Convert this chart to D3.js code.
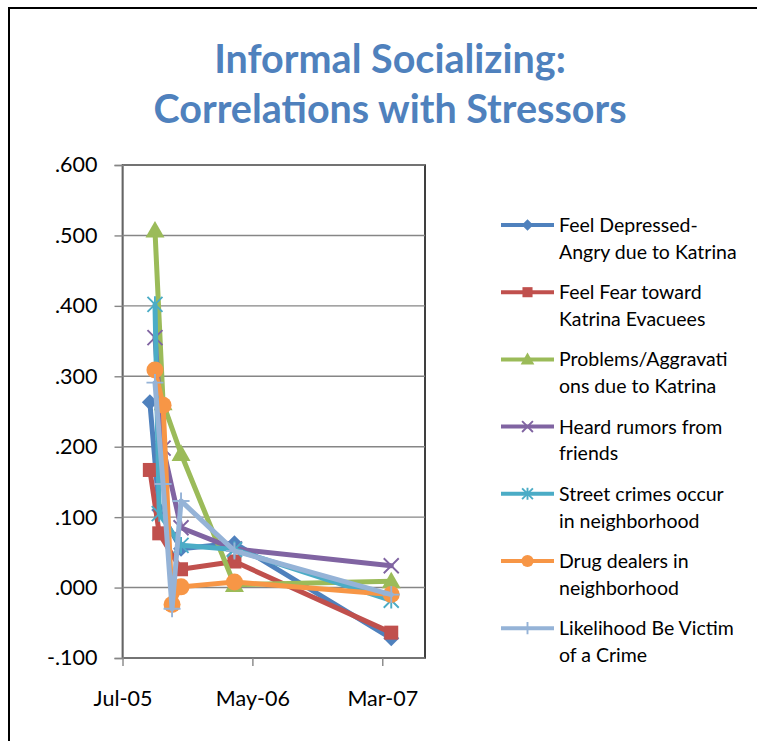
<!DOCTYPE html>
<html>
<head>
<meta charset="utf-8">
<script src="https://cdn.jsdelivr.net/npm/d3@7"></script>
<style>
  html, body { margin: 0; padding: 0; background: #fff; }
  svg { display: block; }
  text { font-family: Lato, "Open Sans", sans-serif; }
</style>
</head>
<body>
<svg id="chart" width="757" height="741"></svg>
<script>
// ---- data ----
const titleLines = ["Informal Socializing:", "Correlations with Stressors"];
const dates = ["2005-09-03", "2005-09-15", "2005-09-25", "2005-10-04", "2005-10-25", "2005-11-15", "2006-03-20", "2007-03-22"];
const seriesNames = [
  ["Feel Depressed-", "Angry due to Katrina"],
  ["Feel Fear toward", "Katrina Evacuees"],
  ["Problems/Aggravati", "ons due to Katrina"],
  ["Heard rumors from", "friends"],
  ["Street crimes occur", "in neighborhood"],
  ["Drug dealers in", "neighborhood"],
  ["Likelihood Be Victim", "of a Crime"]
];
const depressed  = [0.263, null, 0.110, null, null, 0.055, 0.063, -0.072];
const fear       = [0.167, null, 0.077, null, null, 0.026, 0.037, -0.064];
const problems   = [null, 0.507, null, 0.262, null, 0.190, 0.004, 0.009];
const rumors     = [null, 0.355, null, 0.198, null, 0.085, 0.055, 0.031];
const street     = [null, 0.402, 0.105, null, null, 0.060, 0.054, -0.018];
const drug       = [null, 0.309, null, 0.259, -0.024, 0.001, 0.008, -0.010];
const likelihood = [null, 0.291, null, 0.147, -0.030, 0.123, 0.052, -0.010];
const yTicks = [-0.1, 0, 0.1, 0.2, 0.3, 0.4, 0.5, 0.6];
const xTicks = ["2005-07-01", "2006-05-01", "2007-03-01"];
const xDomain = ["2005-07-01", "2007-06-09"];

const allSeries = [depressed, fear, problems, rumors, street, drug, likelihood];
const colors = ["#4F81BD", "#C0504D", "#9BBB59", "#8064A2", "#4BACC6", "#F79646", "#95B3D7"];
const markers = ["diamond", "square", "triangle", "x", "star", "circle", "plus"];

// ---- layout ----
const svg = d3.select("#chart");
const parse = d3.timeParse("%Y-%m-%d");
const pLeft = 122.5, pRight = 425, pTop = 165, pBottom = 658;

const x = d3.scaleTime().domain(xDomain.map(parse)).range([pLeft, pRight]);
const y = d3.scaleLinear().domain([-0.1, 0.6]).range([pBottom, pTop]);

// outer frame
svg.append("rect").attr("x", 9).attr("y", 8).attr("width", 900).attr("height", 900)
  .attr("fill", "#fff").attr("stroke", "#000").attr("stroke-width", 2);

// title
svg.append("g").selectAll("text").data(titleLines).join("text")
  .attr("x", 390).attr("y", (d, i) => 73 + i * 50)
  .attr("text-anchor", "middle")
  .attr("font-size", 39.5).attr("font-weight", "bold")
  .attr("fill", "#4F81BD")
  .text(d => d);

// plot-area border
svg.append("rect").attr("x", pLeft).attr("y", pTop).attr("width", pRight - pLeft).attr("height", pBottom - pTop)
  .attr("fill", "none").attr("stroke", "#000").attr("stroke-width", 1.5);

// gridlines
svg.append("g").selectAll("line").data(yTicks.filter(v => v > -0.1)).join("line")
  .attr("x1", pLeft).attr("x2", pRight)
  .attr("y1", d => y(d)).attr("y2", d => y(d))
  .attr("stroke", "#868686").attr("stroke-width", 1.4);

// y axis
const yAxis = d3.axisLeft(y).tickValues(yTicks).tickSize(8).tickPadding(17)
  .tickFormat(d => (d < 0 ? "-" : "") + d3.format(".3f")(Math.abs(d)).replace(/^0/, ""));
const gy = svg.append("g").attr("transform", `translate(${pLeft},0)`).call(yAxis);
gy.select(".domain").attr("stroke", "#868686").attr("stroke-width", 1.5);
gy.selectAll(".tick line").attr("stroke", "#868686").attr("stroke-width", 1.4);
gy.selectAll(".tick text").attr("font-size", 21.5).attr("fill", "#000")
  .attr("font-family", "Lato, 'Open Sans', sans-serif");

// x axis
const fmt = d3.timeFormat("%b-%y");
const xAxis = d3.axisBottom(x).tickValues(xTicks.map(parse)).tickSize(8).tickPadding(25).tickFormat(fmt);
const gx = svg.append("g").attr("transform", `translate(0,${pBottom})`).call(xAxis);
gx.select(".domain").attr("stroke", "#868686").attr("stroke-width", 1.5).attr("d", `M${pLeft},0H${pRight}`);
gx.selectAll(".tick line").attr("stroke", "#868686").attr("stroke-width", 1.4);
gx.selectAll(".tick text").attr("font-size", 21.5).attr("fill", "#000")
  .attr("font-family", "Lato, 'Open Sans', sans-serif");

// marker drawing
function drawMarker(g, type, cx, cy, color, scale) {
  const s = scale || 1;
  if (type === "diamond") {
    const r = 8 * s;
    g.append("path").attr("d", `M${cx},${cy - r}L${cx + r},${cy}L${cx},${cy + r}L${cx - r},${cy}Z`).attr("fill", color);
  } else if (type === "square") {
    const r = 7 * s;
    g.append("rect").attr("x", cx - r).attr("y", cy - r).attr("width", 2 * r).attr("height", 2 * r).attr("fill", color);
  } else if (type === "triangle") {
    const r = 9.5 * s;
    g.append("path").attr("d", `M${cx},${cy - r}L${cx + r},${cy + r * 0.75}L${cx - r},${cy + r * 0.75}Z`).attr("fill", color);
  } else if (type === "circle") {
    g.append("circle").attr("cx", cx).attr("cy", cy).attr("r", 8.5 * s).attr("fill", color);
  } else if (type === "x") {
    const r = 7.5 * s;
    g.append("path").attr("d", `M${cx - r},${cy - r}L${cx + r},${cy + r}M${cx - r},${cy + r}L${cx + r},${cy - r}`)
      .attr("stroke", color).attr("stroke-width", 1.9).attr("fill", "none");
  } else if (type === "star") {
    const r = 7.5 * s;
    g.append("path").attr("d", `M${cx - r},${cy - r}L${cx + r},${cy + r}M${cx - r},${cy + r}L${cx + r},${cy - r}M${cx},${cy - r * 1.1}L${cx},${cy + r * 1.1}`)
      .attr("stroke", color).attr("stroke-width", 1.9).attr("fill", "none");
  } else if (type === "plus") {
    const r = 8.5 * s;
    g.append("path").attr("d", `M${cx - r},${cy}L${cx + r},${cy}M${cx},${cy - r}L${cx},${cy + r}`)
      .attr("stroke", color).attr("stroke-width", 1.9).attr("fill", "none");
  }
}

// series
const line = d3.line().x(d => x(d.date)).y(d => y(d.value));
allSeries.forEach((vals, i) => {
  const pts = vals.map((v, j) => ({ date: parse(dates[j]), value: v })).filter(p => p.value !== null);
  const g = svg.append("g");
  g.append("path").datum(pts).attr("d", line)
    .attr("fill", "none").attr("stroke", colors[i]).attr("stroke-width", 5)
    .attr("stroke-linejoin", "round").attr("stroke-linecap", "round");
  pts.forEach(p => drawMarker(g, markers[i], x(p.date), y(p.value), colors[i], 1));
});

// legend
const legX = 501, legX2 = 554, legY0 = 225, legStep = 67.2, textX = 559;
seriesNames.forEach((nm, i) => {
  const ly = legY0 + i * legStep;
  const g = svg.append("g");
  g.append("line").attr("x1", legX).attr("x2", legX2).attr("y1", ly).attr("y2", ly)
    .attr("stroke", colors[i]).attr("stroke-width", 4);
  drawMarker(g, markers[i], (legX + legX2) / 2, ly, colors[i], 0.72);
  g.selectAll("text").data(nm).join("text")
    .attr("x", textX).attr("y", (d, k) => ly + 7 + k * 26.7)
    .attr("font-size", 19.5).attr("fill", "#000")
    .text(d => d);
});
</script>
</body>
</html>
